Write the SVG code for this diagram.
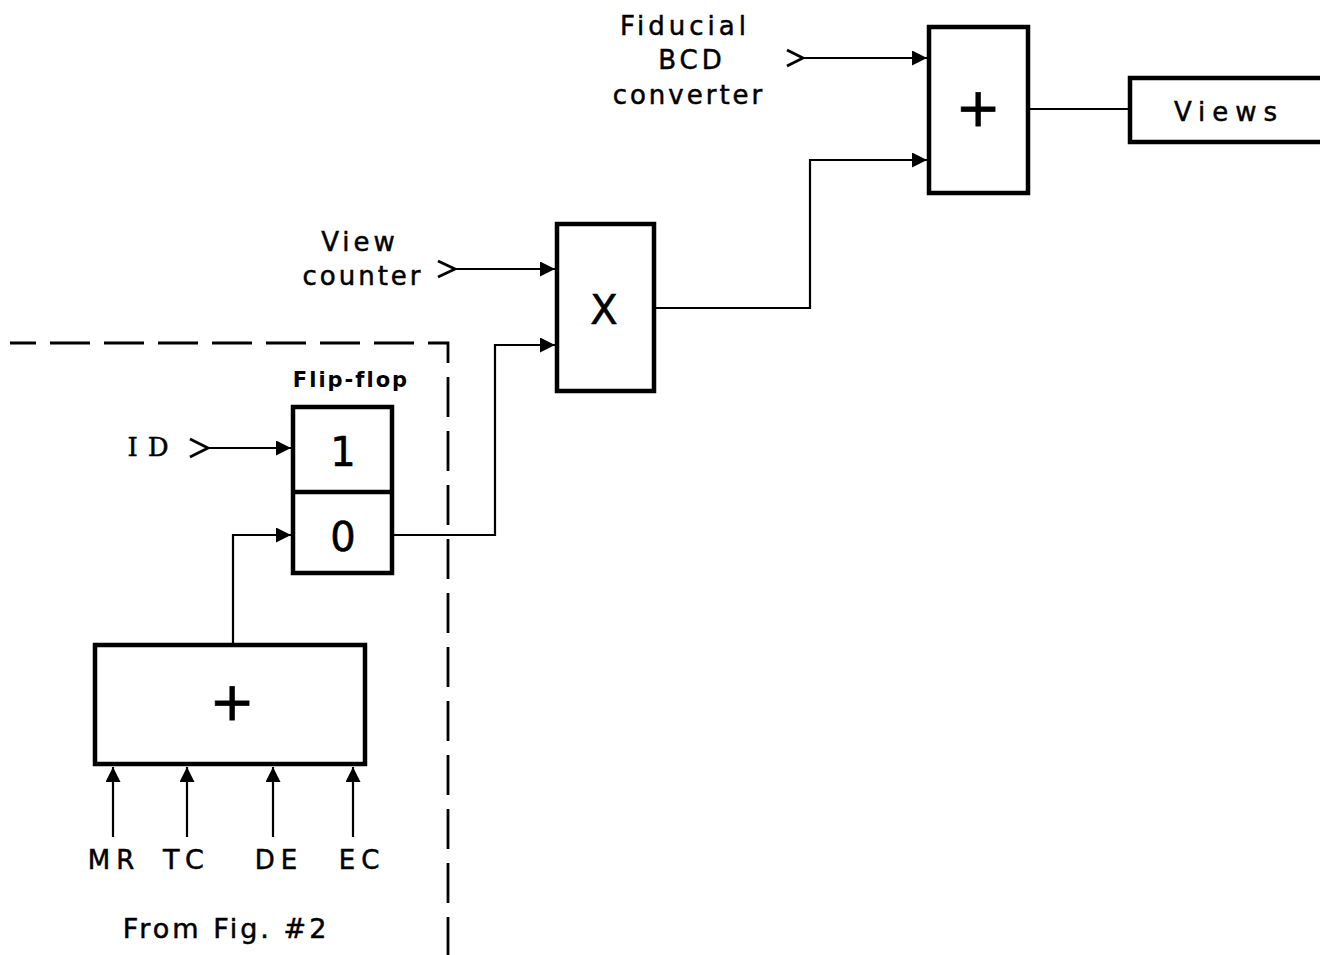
<svg xmlns="http://www.w3.org/2000/svg" width="1320" height="955" viewBox="0 0 1320 955">
<defs>
<style>
.box{fill:none;stroke:#000;stroke-width:4.5}
.ln{fill:none;stroke:#000;stroke-width:2.2}
.chev{fill:none;stroke:#000;stroke-width:2.8}
.dash{fill:none;stroke:#000;stroke-width:2.8;stroke-dasharray:40 14;stroke-dashoffset:14}
.t{font-family:"DejaVu Sans","Liberation Sans",sans-serif;font-size:26px;fill:#000;stroke:#000;stroke-width:0.5;letter-spacing:3px;text-anchor:middle}
.big{font-family:"DejaVu Sans","Liberation Sans",sans-serif;font-size:40px;fill:#000;stroke:#000;stroke-width:0.6;text-anchor:middle}
.plus{font-family:"DejaVu Sans","Liberation Sans",sans-serif;font-size:54px;fill:#000;stroke:#000;stroke-width:0.8;text-anchor:middle}
.ff{font-family:"DejaVu Sans","Liberation Sans",sans-serif;font-size:21px;font-weight:bold;fill:#000;letter-spacing:2px;text-anchor:middle}
</style>
<marker id="ah" viewBox="0 0 10 10" refX="10" refY="5" markerWidth="16" markerHeight="15" markerUnits="userSpaceOnUse" orient="auto">
<path d="M0,0 L10,5 L0,10 z" fill="#000"/>
</marker>
</defs>
<rect width="1320" height="955" fill="#fff"/>

<g id="boundary">
<path class="dash" d="M10,343 H448 V955"/>
<text class="t" x="226" y="938" style="font-size:27px">From Fig. #2</text>
</g>

<g id="fiducial-input">
<text class="t" x="685" y="35" style="letter-spacing:4px">Fiducial</text>
<text class="t" x="692" y="69" style="letter-spacing:4px">BCD</text>
<text class="t" x="689" y="104">converter</text>
<path class="chev" d="M787,50 L803,58 L787,66"/>
</g>

<g id="adder-top">
<rect class="box" x="929" y="27" width="99" height="166"/>
<text class="plus" x="978" y="126">+</text>
</g>

<g id="views">
<path class="box" d="M1330,78 H1130 V142 H1330"/>
<text class="t" x="1229" y="121" style="letter-spacing:7px">Views</text>
</g>

<g id="view-counter-input">
<text class="t" x="360" y="251" style="letter-spacing:4px">View</text>
<text class="t" x="363" y="285">counter</text>
<path class="chev" d="M438,261 L455,269 L438,277"/>
</g>

<g id="multiplier">
<rect class="box" x="557" y="224" width="97" height="167"/>
<text class="big" x="604" y="324">X</text>
</g>

<g id="flip-flop">
<text class="ff" x="351" y="387">Flip-flop</text>
<rect class="box" x="293" y="407" width="99" height="166"/>
<line class="box" x1="293" y1="492" x2="392" y2="492"/>
<text class="big" x="343" y="466">1</text>
<text class="big" x="343" y="551">0</text>
</g>

<g id="id-input">
<text class="t" x="153" y="456" style="letter-spacing:10px;font-family:'DejaVu Serif','Liberation Serif',serif">ID</text>
<path class="chev" d="M190,439 L208,448 L190,457"/>
</g>

<g id="adder-bottom">
<rect class="box" x="95" y="645" width="270" height="119"/>
<text class="plus" x="232" y="720">+</text>
<text class="t" x="114" y="869" style="letter-spacing:6px">MR</text>
<text class="t" x="187" y="869" style="letter-spacing:7px;font-size:27px">TC</text>
<text class="t" x="279" y="869" style="letter-spacing:6px">DE</text>
<text class="t" x="362" y="869" style="letter-spacing:6px">EC</text>
</g>

<g id="connectors">
<path class="ln" d="M803,58 H927" marker-end="url(#ah)"/>
<path class="ln" d="M655,308 H810 V160 H927" marker-end="url(#ah)"/>
<path class="ln" d="M1028,109 H1130"/>
<path class="ln" d="M455,269 H555" marker-end="url(#ah)"/>
<path class="ln" d="M392,535 H495 V345 H555" marker-end="url(#ah)"/>
<path class="ln" d="M208,448 H291" marker-end="url(#ah)"/>
<path class="ln" d="M233,645 V535 H291" marker-end="url(#ah)"/>
<path class="ln" d="M113,837 V767" marker-end="url(#ah)"/>
<path class="ln" d="M187,837 V767" marker-end="url(#ah)"/>
<path class="ln" d="M273,837 V767" marker-end="url(#ah)"/>
<path class="ln" d="M353,837 V767" marker-end="url(#ah)"/>
</g>
</svg>
